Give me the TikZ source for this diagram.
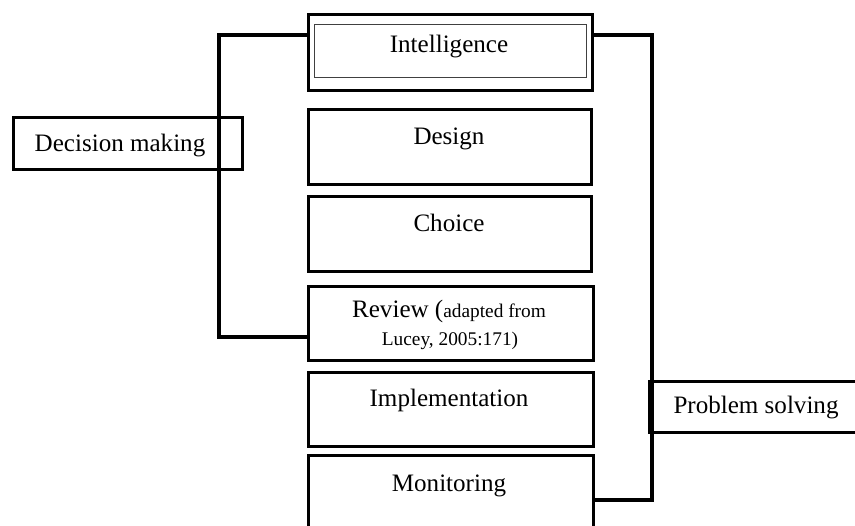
\documentclass[tikz,border=0pt]{standalone}
\usepackage{fontspec}
\setmainfont{Liberation Serif}
\begin{document}
\begin{tikzpicture}[x=0.75pt,y=-0.75pt,
  box/.style={draw=black,line width=2.3pt,inner sep=0pt,anchor=north west},
  lbl/.style={anchor=base,inner sep=0pt,font=\fontsize{18.8}{22}\selectfont},
  conn/.style={draw=black,line width=2.3pt,line join=miter}]
\useasboundingbox (0,0) rectangle (855,525);
% main column
\node[box,minimum width=284*0.75pt,minimum height=76*0.75pt] (intel) at (307,13) {};
\node[draw=black!75,line width=0.8pt,inner sep=0pt,anchor=north west,minimum width=272*0.75pt,minimum height=53*0.75pt] (intelin) at (314,24) {};
\node[lbl] (intelt) at (449,52) {Intelligence};
\node[box,minimum width=283*0.75pt,minimum height=75*0.75pt] (design) at (307,108) {};
\node[lbl] (designt) at (449,144) {Design};
\node[box,minimum width=283*0.75pt,minimum height=75*0.75pt] (choice) at (307,195) {};
\node[lbl] (choicet) at (449,231) {Choice};
\node[box,minimum width=285*0.75pt,minimum height=74*0.75pt] (review) at (307,285) {};
\node[lbl] (reviewt) at (449,317) {Review ({\fontsize{14.5}{17}\selectfont adapted from}};
\node[lbl,font=\fontsize{14.5}{17}\selectfont] (reviewt2) at (450,345) {Lucey, 2005:171)};
\node[box,minimum width=285*0.75pt,minimum height=74*0.75pt] (impl) at (307,371) {};
\node[lbl] (implt) at (449,406) {Implementation};
\node[box,minimum width=285*0.75pt,minimum height=80*0.75pt] (monit) at (307,454) {};
\node[lbl] (monitt) at (449,491) {Monitoring};
% side boxes
\node[box,minimum width=229*0.75pt,minimum height=52*0.75pt] (dm) at (12,116) {};
\node[lbl] (dmt) at (120,151) {Decision making};
% connectors
\coordinate (l1) at (219,35);
\coordinate (l2) at (219,337);
\coordinate (r1) at (652,35);
\coordinate (r2) at (652,500);
\draw[conn] (intel.west |- l1) -- (l1) -- (l2) -- (review.west |- l2);
\draw[conn] (intel.east |- r1) -- (r1) -- (r2) -- (monit.east |- r2);
\node[box,minimum width=210*0.75pt,minimum height=51*0.75pt,fill=white] (ps) at (648,380) {};
\node[lbl] (pst) at (756,413) {Problem solving};
\draw[line width=2.3pt] ([xshift=4.5*0.75pt]ps.north west) -- ([xshift=4.5*0.75pt]ps.south west);
\end{tikzpicture}
\end{document}
